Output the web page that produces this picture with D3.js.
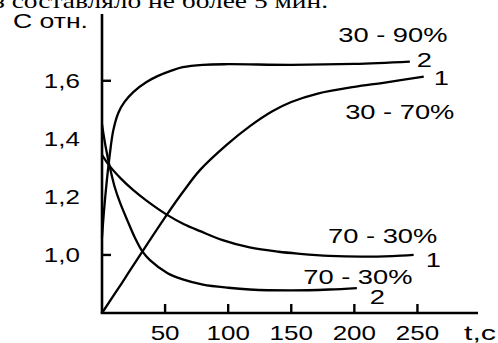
<!DOCTYPE html>
<meta charset="utf-8">
<script src="https://cdn.jsdelivr.net/npm/d3@7"></script>
<style>
  body { margin: 0; background: #fff; }
  text { font-family: "Liberation Sans", Arial, sans-serif; fill: #000; }
  .serif { font-family: "Liberation Serif", "Times New Roman", serif; }
</style>
<div id="chart"></div>
<script>

// data: t in seconds, C relative
var yTickValues = [1.0, 1.2, 1.4, 1.6]
var yTickMarks = [1.0, 1.6]
var xTickValues = [50, 100, 150, 200, 250]

var up2 = [[0,1.06],[1,1.12],[3,1.22],[6,1.34],[9,1.43],[13,1.49],[18,1.528],[25,1.562],[35,1.595],[44,1.616],[55,1.635],[64,1.647],[80,1.655],[100,1.657],[150,1.655],[200,1.658],[244,1.666]]
var up1 = [[0,0.80],[16,0.905],[31.7,1.01],[51.6,1.14],[65,1.222],[77.8,1.293],[99,1.38],[117,1.443],[135,1.495],[150,1.527],[171,1.556],[200,1.579],[223,1.593],[255,1.614]]
var down1 = [[0,1.345],[6.3,1.305],[15,1.263],[24.6,1.224],[35,1.188],[51.6,1.138],[65,1.106],[77.8,1.082],[95,1.052],[117,1.026],[140,1.011],[157,1.004],[180,0.997],[205,0.994],[230,0.996],[247,1.0]]
var down2 = [[0,1.45],[3,1.37],[6.3,1.30],[10,1.235],[14.3,1.18],[20,1.12],[26,1.06],[32,1.012],[38,0.982],[52,0.937],[64,0.916],[80,0.898],[100,0.887],[117,0.881],[150,0.878],[180,0.881],[202,0.886]]

var seriesNames = ["30 - 90%", "30 - 70%", "70 - 30%", "70 - 30%"]
var seriesNumbers = ["2", "1", "1", "2"]
var seriesValues = [up2, up1, down1, down2]

// where the labels sit relative to each curve's end (px)
var labelOffsets = [
  {num: [7, 5],   name: [-17, -20]},
  {num: [10, 8],  name: [-24, 42]},
  {num: [12, 12], name: [-31, -12]},
  {num: [13, 16], name: [1, -4]}
]

var W = 498, H = 343
var stretch = 1.3

var svg = d3.select("#chart").append("svg")
    .attr("width", W)
    .attr("height", H)

var x = d3.scaleLinear().domain([0, 298]).range([102, 478])
var y = d3.scaleLinear().domain([0.8, 1.83]).range([313, 14])

function label(g, txt, px, py, anchor, size) {
  return g.append("text")
    .attr("transform", "translate(" + px + "," + py + ") scale(" + stretch + ",1)")
    .attr("text-anchor", anchor)
    .style("font-size", size + "px")
    .text(txt)
}

// cut-off line of the page text above the figure
label(svg, "з составляло не более 5 мин.", -6, 7.5, "start", 22)
  .attr("class", "serif")
  .attr("textLength", 334 / stretch)
  .attr("lengthAdjust", "spacingAndGlyphs")

// axes
svg.append("line")
  .attr("x1", x(0)).attr("x2", x(0))
  .attr("y1", y(1.83)).attr("y2", y(0.8))
  .attr("stroke", "#000").attr("stroke-width", 2.6)
svg.append("line")
  .attr("x1", x(0) - 1.3).attr("x2", x(298))
  .attr("y1", y(0.8)).attr("y2", y(0.8))
  .attr("stroke", "#000").attr("stroke-width", 2.6)

svg.selectAll(".ytick").data(yTickMarks).enter().append("line")
  .attr("x1", x(0)).attr("x2", x(0) + 9)
  .attr("y1", function(d) { return y(d) }).attr("y2", function(d) { return y(d) })
  .attr("stroke", "#000").attr("stroke-width", 2.4)

svg.selectAll(".xtick").data(xTickValues).enter().append("line")
  .attr("x1", function(d) { return x(d) }).attr("x2", function(d) { return x(d) })
  .attr("y1", y(0.8)).attr("y2", y(0.8) - 9)
  .attr("stroke", "#000").attr("stroke-width", 2.4)

yTickValues.forEach(function(v) {
  label(svg, String(v.toFixed(1)).replace(".", ","), 80, y(v) + 7, "end", 20)
})
xTickValues.forEach(function(t) {
  label(svg, String(t), x(t), 340, "middle", 20)
})
label(svg, "t,c", 464, 340, "start", 20)
  .attr("textLength", 32 / stretch)
  .attr("lengthAdjust", "spacingAndGlyphs")
label(svg, "С отн.", 13, 28, "start", 20)
  .attr("textLength", 75 / stretch)
  .attr("lengthAdjust", "spacingAndGlyphs")

// curves
var line = d3.line()
  .curve(d3.curveCatmullRom.alpha(0.5))
  .x(function(d) { return x(d[0]) })
  .y(function(d) { return y(d[1]) })

seriesValues.forEach(function(vals, i) {
  svg.append("path")
    .datum(vals)
    .attr("fill", "none")
    .attr("stroke", "#000")
    .attr("stroke-width", 2.3)
    .attr("d", line)

  var end = vals[vals.length - 1]
  var ex = x(end[0]), ey = y(end[1])
  var off = labelOffsets[i]
  label(svg, seriesNumbers[i], ex + off.num[0], ey + off.num[1], "start", 21)
  label(svg, seriesNames[i], ex + off.name[0], ey + off.name[1], "middle", 21)
})

</script>
